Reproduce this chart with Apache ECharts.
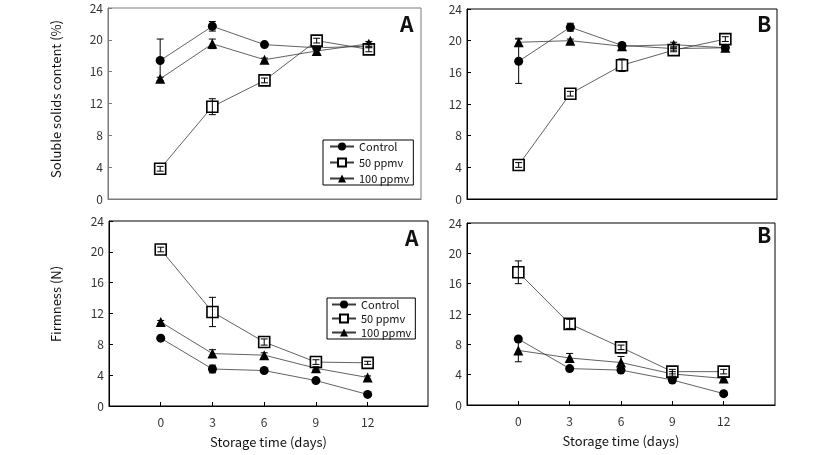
<!DOCTYPE html>
<html><head><meta charset="utf-8">
<script src="https://cdn.jsdelivr.net/npm/echarts@6/dist/echarts.min.js"></script>
<style>html,body{margin:0;padding:0;background:#fff}#c{width:832px;height:455px}</style>
</head><body><div id="c"></div>
<script>
// ---- data ----
const days = [0, 3, 6, 9, 12];
const xTickValues = [0, 3, 6, 9, 12];
const seriesNames = ['Control', '50 ppmv', '100 ppmv'];
const panelLetters = ['A', 'B', 'A', 'B'];
const yTitleTop = 'Soluble solids content (%)';
const yTitleBottom = 'Firmness (N)';
const xTitle = 'Storage time (days)';

// Soluble solids content, panel A
const sscA_control = [17.4, 21.7, 19.4, 19.0, 19.2];
const sscA_control_err = [2.7, 0.6, 0.2, 0.2, 0.2];
const sscA_p50 = [3.8, 11.6, 14.9, 19.9, 18.8];
const sscA_p50_err = [0.3, 1.0, 0.3, 0.3, 0.3];
const sscA_p100 = [15.1, 19.5, 17.5, 18.6, 19.5];
const sscA_p100_err = [0.2, 0.6, 0.2, 0.3, 0.3];

// Soluble solids content, panel B
const sscB_control = [17.4, 21.7, 19.4, 19.0, 19.1];
const sscB_control_err = [2.8, 0.5, 0.2, 0.2, 0.2];
const sscB_p50 = [4.3, 13.3, 16.9, 18.8, 20.2];
const sscB_p50_err = [0.3, 0.3, 0.8, 0.2, 0.3];
const sscB_p100 = [19.8, 20.0, 19.3, 19.5, 19.1];
const sscB_p100_err = [0.5, 0.2, 0.2, 0.3, 0.2];

// Firmness, panel A
const firmA_control = [8.8, 4.8, 4.6, 3.3, 1.5];
const firmA_control_err = [0.2, 0.5, 0.2, 0.2, 0.2];
const firmA_p50 = [20.3, 12.2, 8.3, 5.7, 5.6];
const firmA_p50_err = [0.3, 1.9, 0.4, 0.3, 0.2];
const firmA_p100 = [10.9, 6.8, 6.6, 4.9, 3.7];
const firmA_p100_err = [0.2, 0.5, 0.3, 0.2, 0.2];

// Firmness, panel B
const firmB_control = [8.7, 4.8, 4.6, 3.3, 1.5];
const firmB_control_err = [0.2, 0.3, 0.2, 0.2, 0.2];
const firmB_p50 = [17.5, 10.7, 7.6, 4.4, 4.4];
const firmB_p50_err = [1.5, 0.6, 0.3, 0.3, 0.3];
const firmB_p100 = [7.2, 6.2, 5.6, 4.1, 3.5];
const firmB_p100_err = [1.5, 0.6, 0.8, 0.3, 0.2];

// ---- layout ----
const FONT = 'Noto Sans CJK KR';
const grids = [
  {left: 108, top: 8, width: 313, height: 191, xmax: 15, col: '#7a7a7a'},
  {left: 467, top: 9, width: 310, height: 190, xmax: 15, col: '#000'},
  {left: 109, top: 221, width: 319, height: 185, xmax: 15.5, col: '#000'},
  {left: 467, top: 223, width: 308, height: 182, xmax: 15, col: '#000'}
];
const panels = [
  [sscA_control, sscA_control_err, sscA_p50, sscA_p50_err, sscA_p100, sscA_p100_err],
  [sscB_control, sscB_control_err, sscB_p50, sscB_p50_err, sscB_p100, sscB_p100_err],
  [firmA_control, firmA_control_err, firmA_p50, firmA_p50_err, firmA_p100, firmA_p100_err],
  [firmB_control, firmB_control_err, firmB_p50, firmB_p50_err, firmB_p100, firmB_p100_err]
];
const styles = {
  'Control': {symbol: 'circle', size: 9, fill: '#000', bw: 0, z: 3},
  '50 ppmv': {symbol: 'rect', size: 11, fill: '#fff', bw: 1.6, z: 4},
  '100 ppmv': {symbol: 'triangle', size: 10, fill: '#000', bw: 0, z: 3}
};

function lineSeries(gi, name, vals) {
  const st = styles[name];
  return {
    type: 'line', name: name, xAxisIndex: gi, yAxisIndex: gi,
    data: days.map((d, i) => [d, vals[i]]),
    symbol: st.symbol, symbolSize: st.size, showSymbol: true,
    lineStyle: {color: '#3a3a3a', width: 0.8},
    itemStyle: {color: st.fill, borderColor: '#000', borderWidth: st.bw},
    emphasis: {disabled: true}, z: st.z, animation: false
  };
}
function errSeries(gi, vals, errs) {
  return {
    type: 'custom', xAxisIndex: gi, yAxisIndex: gi, z: 6, silent: true, animation: false,
    data: days.map((d, i) => [d, vals[i], errs[i]]),
    encode: {x: 0, y: 1},
    renderItem: function (params, api) {
      const x = api.value(0), y = api.value(1), e = api.value(2);
      const t = api.coord([x, y + e]), b = api.coord([x, y - e]);
      const c = 3.5, st = {stroke: '#000', lineWidth: 1};
      return {type: 'group', children: [
        {type: 'line', shape: {x1: t[0], y1: t[1], x2: b[0], y2: b[1]}, style: st},
        {type: 'line', shape: {x1: t[0] - c, y1: t[1], x2: t[0] + c, y2: t[1]}, style: st},
        {type: 'line', shape: {x1: b[0] - c, y1: b[1], x2: b[0] + c, y2: b[1]}, style: st}
      ]};
    }
  };
}

const series = [];
panels.forEach((p, gi) => {
  series.push(lineSeries(gi, 'Control', p[0]));
  series.push(lineSeries(gi, '100 ppmv', p[4]));
  series.push(lineSeries(gi, '50 ppmv', p[2]));
  series.push(errSeries(gi, p[0], p[1]));
  series.push(errSeries(gi, p[4], p[5]));
  series.push(errSeries(gi, p[2], p[3]));
});

const titleFont = '13px ' + FONT;
const option = {
  animation: false,
  backgroundColor: '#fff',
  textStyle: {fontFamily: FONT},
  grid: grids.map(g => ({left: g.left, top: g.top, width: g.width, height: g.height,
    show: true, borderColor: g.col, borderWidth: 1, containLabel: false})),
  xAxis: grids.map((g, i) => ({
    type: 'value', gridIndex: i, min: -3, max: g.xmax, interval: 3,
    axisLine: {show: true, onZero: false, lineStyle: {color: g.col, width: 1}},
    axisTick: {show: i >= 2, inside: true, length: 4, customValues: xTickValues, lineStyle: {color: '#000'}},
    axisLabel: {show: i >= 2, customValues: xTickValues, margin: 10, fontSize: 12, color: '#333', fontFamily: FONT},
    splitLine: {show: false},
    name: i >= 2 ? xTitle : '', nameLocation: 'middle', nameGap: 30,
    nameTextStyle: {fontSize: 13, color: '#111', fontFamily: FONT}
  })),
  yAxis: grids.map((g, i) => ({
    type: 'value', gridIndex: i, min: 0, max: 24, interval: 4,
    axisLine: {show: true, onZero: false, lineStyle: {color: g.col, width: 1}},
    axisTick: {show: true, inside: true, length: 4, lineStyle: {color: g.col}},
    axisLabel: {margin: 5, fontSize: 12, color: '#333', fontFamily: FONT},
    splitLine: {show: false}
  })),
  legend: [
    {left: 323, top: 140, orient: 'vertical', data: seriesNames, itemWidth: 24, itemHeight: 10,
     itemGap: 5, padding: [1, 4, 1, 6], borderColor: '#000', borderWidth: 1, selectedMode: false,
     textStyle: {fontSize: 11, lineHeight: 11, color: '#111', fontFamily: FONT}},
    {left: 327, top: 298, orient: 'vertical', data: seriesNames, itemWidth: 24, itemHeight: 10,
     itemGap: 3, padding: [1, 4, 1, 4], borderColor: '#000', borderWidth: 1, selectedMode: false,
     textStyle: {fontSize: 11, lineHeight: 11, color: '#111', fontFamily: FONT}}
  ],
  graphic: [
    {type: 'text', x: 56, y: 99, rotation: Math.PI / 2,
     style: {text: yTitleTop, font: titleFont, fill: '#111', align: 'center', verticalAlign: 'middle'}},
    {type: 'text', x: 56, y: 304, rotation: Math.PI / 2,
     style: {text: yTitleBottom, font: titleFont, fill: '#111', align: 'center', verticalAlign: 'middle'}},
    {type: 'text', left: 400, top: 14, style: {text: panelLetters[0], font: 'bold 21px ' + FONT, fill: '#111'}},
    {type: 'text', left: 757, top: 14, style: {text: panelLetters[1], font: 'bold 21px ' + FONT, fill: '#111'}},
    {type: 'text', left: 405, top: 228, style: {text: panelLetters[2], font: 'bold 21px ' + FONT, fill: '#111'}},
    {type: 'text', left: 757, top: 225, style: {text: panelLetters[3], font: 'bold 21px ' + FONT, fill: '#111'}}
  ],
  series: series
};
const chart = echarts.init(document.getElementById('c'), null, {renderer: 'canvas'});
chart.setOption(option);
</script></body></html>
